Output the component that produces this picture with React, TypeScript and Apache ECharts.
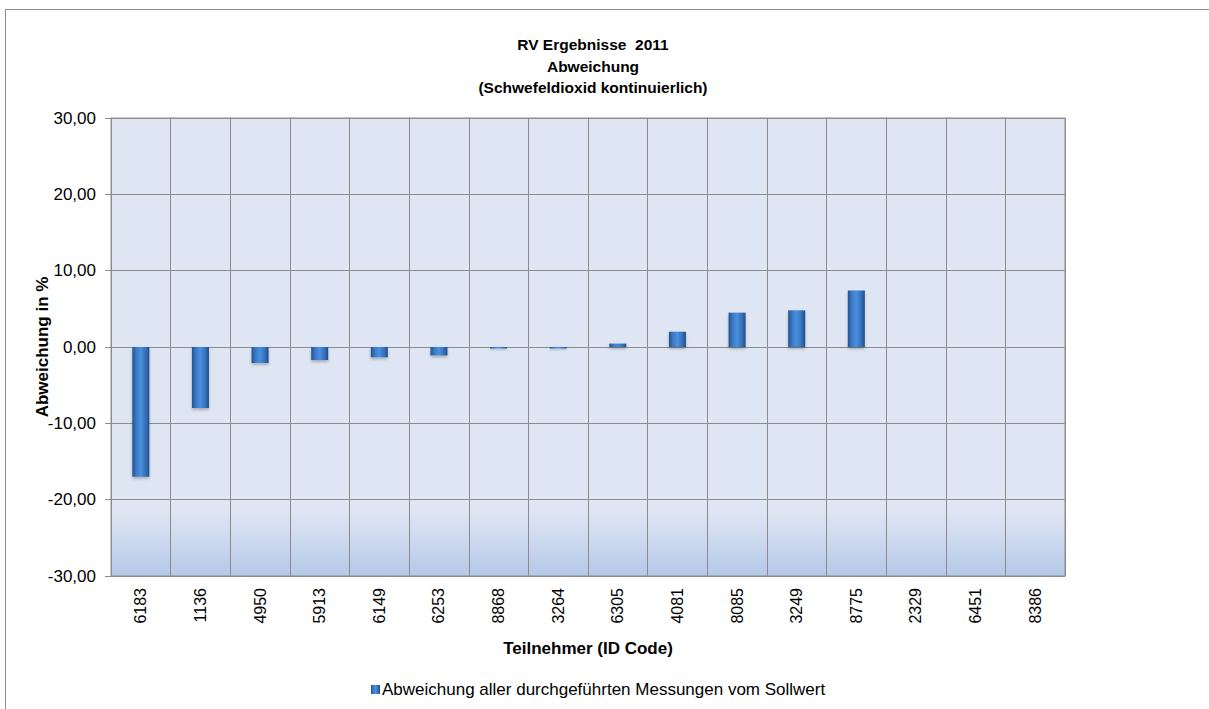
import React, { useEffect, useRef } from "react";
import * as echarts from "echarts";

const categories = ["6183", "1136", "4950", "5913", "6149", "6253", "8868", "3264", "6305", "4081", "8085", "3249", "8775", "2329", "6451", "8386"];
const deviations: (number | null)[] = [-17.0, -8.0, -2.1, -1.7, -1.35, -1.1, -0.2, -0.2, 0.45, 2.0, 4.5, 4.8, 7.4, null, null, null];
const titleLines = ["RV Ergebnisse  2011", "Abweichung", "(Schwefeldioxid kontinuierlich)"];
const seriesName = "Abweichung aller durchgeführten Messungen vom Sollwert";
const yMin = -30;
const yMax = 30;
const yStep = 10;

const FONT = "'Liberation Sans', Arial, sans-serif";

export default function App() {
  const ref = useRef<HTMLDivElement>(null);
  useEffect(() => {
    if (!ref.current) return;
    const chart = echarts.init(ref.current, undefined, { renderer: "svg" });
    const barGradient = new echarts.graphic.LinearGradient(0, 0, 1, 0, [
      { offset: 0, color: "#24538f" },
      { offset: 0.25, color: "#3b7bc8" },
      { offset: 0.5, color: "#4a8fdf" },
      { offset: 0.8, color: "#336fb8" },
      { offset: 1, color: "#214c86" },
    ]);
    chart.setOption({
      animation: false,
      textStyle: { fontFamily: FONT },
      title: {
        text: titleLines.join("\n"),
        left: 588,
        textAlign: "center",
        top: 29,
        textStyle: { fontSize: 15.5, fontWeight: "bold", color: "#000", lineHeight: 21.5, fontFamily: FONT },
      },
      legend: {
        left: 366,
        top: 676,
        icon: "rect",
        itemWidth: 9,
        itemHeight: 9,
        itemGap: 4,
        textStyle: { fontSize: 17, color: "#000", fontFamily: FONT, padding: [0, 0, 0, -3] },
        data: [seriesName],
      },
      grid: {
        left: 111,
        right: 144,
        top: 118,
        bottom: 133,
        show: true,
        borderColor: "#8c8c8c",
        borderWidth: 1,
        backgroundColor: new echarts.graphic.LinearGradient(0, 0, 0, 1, [
          { offset: 0, color: "#dfe6f3" },
          { offset: 0.86, color: "#dfe6f3" },
          { offset: 1, color: "#b5c8e8" },
        ]),
      },
      xAxis: {
        type: "category",
        data: categories,
        boundaryGap: true,
        name: "Teilnehmer (ID Code)",
        nameLocation: "middle",
        nameGap: 64,
        nameMoveOverlap: false,
        nameTextStyle: { fontSize: 17, fontWeight: "bold", color: "#000", fontFamily: FONT },
        axisLine: { show: true, onZero: false, lineStyle: { color: "#8c8c8c" } },
        axisTick: { show: false },
        axisLabel: { rotate: 90, fontSize: 16, color: "#000", margin: 12, interval: 0, fontFamily: FONT },
        splitLine: { show: true, interval: 0, lineStyle: { color: "#8c8c8c", width: 1 } },
      },
      yAxis: {
        type: "value",
        min: yMin,
        max: yMax,
        interval: yStep,
        name: "Abweichung in %",
        nameLocation: "middle",
        nameGap: 60,
        nameMoveOverlap: false,
        nameRotate: 90,
        nameTextStyle: { fontSize: 17, fontWeight: "bold", color: "#000", fontFamily: FONT },
        axisLine: { show: true, lineStyle: { color: "#8c8c8c" } },
        axisTick: { show: true, length: 6, lineStyle: { color: "#8c8c8c" } },
        axisLabel: {
          fontSize: 17,
          color: "#000",
          margin: 15,
          fontFamily: FONT,
          formatter: (v: number) => v.toFixed(2).replace(".", ","),
        },
        splitLine: { show: true, lineStyle: { color: "#8c8c8c", width: 1 } },
      },
      graphic: [
        {
          type: "rect",
          shape: { x: 5.5, y: 9.5, width: 1260, height: 760 },
          style: { fill: "none", stroke: "#8c8c8c", lineWidth: 1 },
          silent: true,
          z: -10,
        },
      ],
      series: [
        {
          name: seriesName,
          type: "bar",
          data: deviations,
          barWidth: 17,
          itemStyle: {
            color: barGradient,
            shadowColor: "rgba(0,0,0,0.25)",
            shadowBlur: 3,
            shadowOffsetY: 2,
          },
        },
      ],
    });
    return () => chart.dispose();
  }, []);
  return <div ref={ref} style={{ position: "fixed", left: 0, top: 0, width: 1209, height: 709, background: "#fff" }} />;
}
